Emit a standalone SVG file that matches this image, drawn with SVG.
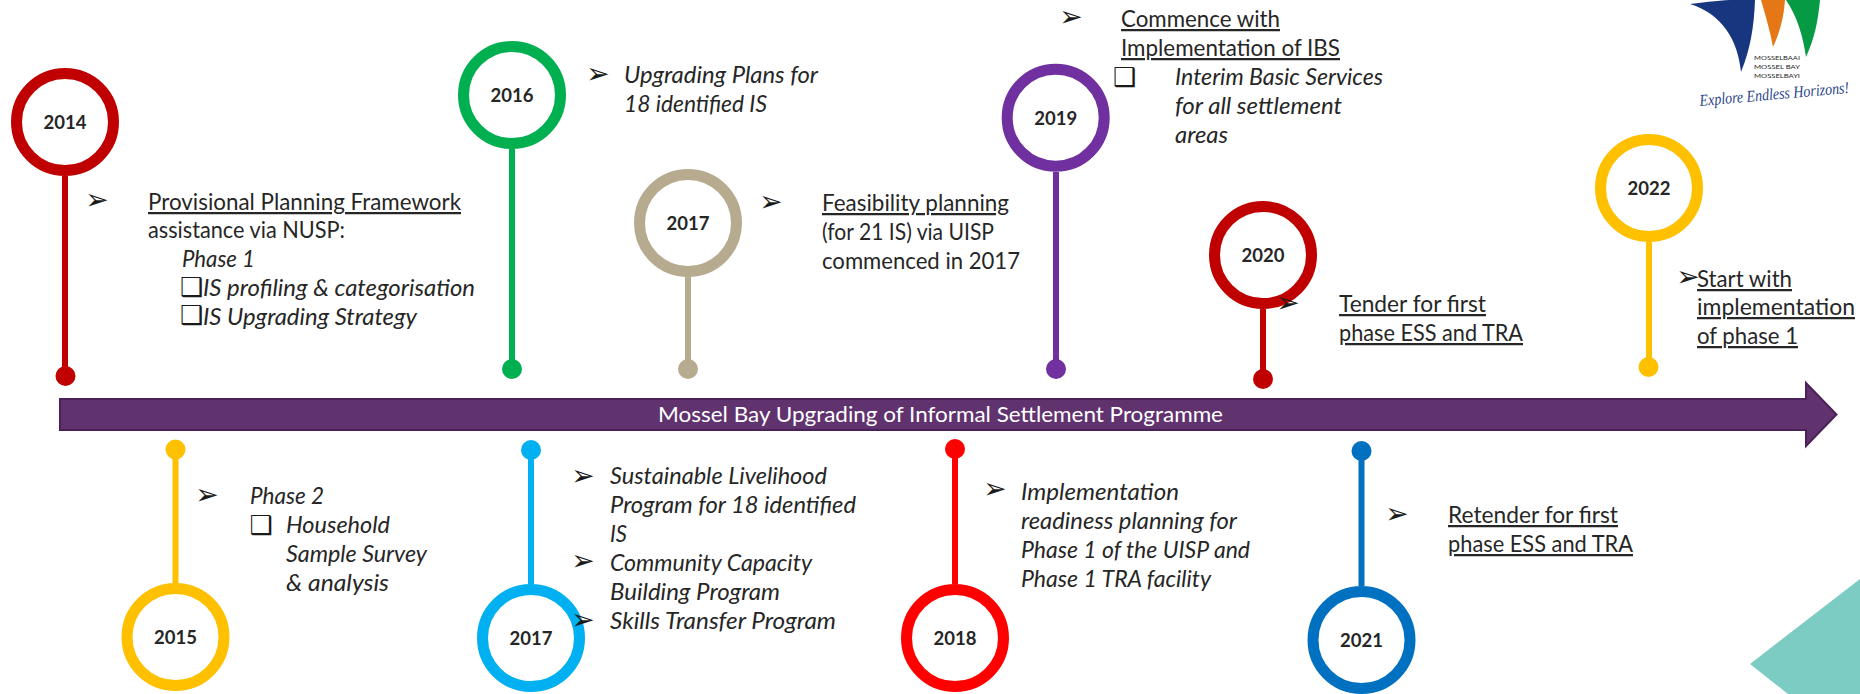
<svg xmlns="http://www.w3.org/2000/svg" width="1860" height="694" viewBox="0 0 1860 694">
<style>
text{font-family:Lato,"Liberation Sans",sans-serif;fill:#262626}
.t{font-size:22.5px}
.i{font-size:22.5px;font-style:italic}
.u{text-decoration:underline}
.y{font-size:18.5px;font-weight:700;text-anchor:middle}
.b{font-family:"DejaVu Sans",sans-serif;font-size:28px;text-anchor:middle;fill:#1a1a1a}
.c{font-family:"DejaVu Sans",sans-serif;font-size:26px;text-anchor:middle;fill:#1a1a1a}
.r{fill:#fff;stroke-width:11}
.s{stroke-width:6;fill:none}
</style>
<rect width="1860" height="694" fill="#fff"/>
<polygon id="corner-shape" points="1750,664 1860,579 1860,694 1788,694" fill="#7CCCC4"/>
<g id="logo">
<path d="M1690,4 C1708,2 1722,0 1735,0 L1755,0 C1754,28 1750,50 1741,72 C1738,40 1722,14 1690,4Z" fill="#17367F"/>
<path d="M1761,0 L1785,0 C1784,18 1779,34 1773,47 C1770,30 1765,14 1761,0Z" fill="#E57717"/>
<path d="M1786,0 L1820,0 C1818,22 1814,40 1806,57 C1803,36 1797,16 1786,0Z" fill="#079A44"/>
<text x="1754" y="60" font-size="6.5" textLength="46" lengthAdjust="spacingAndGlyphs">MOSSELBAAI</text>
<text x="1754" y="69" font-size="6.5" textLength="46" lengthAdjust="spacingAndGlyphs">MOSSEL BAY</text>
<text x="1754" y="78" font-size="6.5" textLength="46" lengthAdjust="spacingAndGlyphs">MOSSELBAYI</text>
<text transform="translate(1700 106) rotate(-5)" font-size="16.500" font-style="italic" textLength="150" lengthAdjust="spacingAndGlyphs" style="font-family:'Liberation Serif',serif;fill:#2A4488">Explore Endless Horizons!</text>
</g>
<g id="connectors">
<line class="s" x1="65" y1="176" x2="65" y2="376" stroke="#C00000"/><circle cx="65.500" cy="376" r="10" fill="#C00000"/>
<line class="s" x1="512" y1="149" x2="512" y2="369" stroke="#00B050"/><circle cx="512" cy="369" r="10" fill="#00B050"/>
<line class="s" x1="688" y1="277" x2="688" y2="369" stroke="#B7AB8F"/><circle cx="688" cy="369" r="10" fill="#B7AB8F"/>
<line class="s" x1="1056" y1="172" x2="1056" y2="369" stroke="#7030A0"/><circle cx="1056" cy="369" r="10" fill="#7030A0"/>
<line class="s" x1="1263" y1="309" x2="1263" y2="378" stroke="#C00000"/><circle cx="1263" cy="379" r="10" fill="#C00000"/>
<line class="s" x1="1649" y1="242" x2="1649" y2="368" stroke="#FFC000"/><circle cx="1648.500" cy="367" r="10" fill="#FFC000"/>
<line class="s" x1="175.500" y1="450" x2="175.500" y2="583" stroke="#FFC000"/><circle cx="175.500" cy="449.500" r="10" fill="#FFC000"/>
<line class="s" x1="531" y1="450" x2="531" y2="584" stroke="#00B0F0"/><circle cx="531" cy="450" r="10" fill="#00B0F0"/>
<line class="s" x1="955" y1="449" x2="955" y2="584" stroke="#FF0000"/><circle cx="955" cy="449" r="10" fill="#FF0000"/>
<line class="s" x1="1361.500" y1="451" x2="1361.500" y2="586" stroke="#0070C0"/><circle cx="1361.500" cy="451" r="10" fill="#0070C0"/>
</g>
<g id="timeline">
<polygon points="60,399 1806,399 1806,383 1836.500,414.500 1806,446 1806,430 60,430" fill="#60336F" stroke="#4A2257" stroke-width="2"/>
<text x="658" y="422" font-size="20.500" textLength="565" lengthAdjust="spacingAndGlyphs" style="fill:#fff">Mossel Bay Upgrading of Informal Settlement Programme</text>
</g>
<g id="node-2014">
<circle class="r" cx="65" cy="122" r="48.500" stroke="#C00000"/><text class="y" x="65" y="129">2014</text>
<text class="b" x="97" y="209">➢</text>
<text class="t u" x="148" y="210" textLength="313" lengthAdjust="spacingAndGlyphs">Provisional Planning Framework</text>
<text class="t" x="148" y="238" textLength="197" lengthAdjust="spacingAndGlyphs">assistance via NUSP:</text>
<text class="i" x="182" y="267" textLength="73" lengthAdjust="spacingAndGlyphs">Phase 1</text>
<text class="c" x="191.500" y="296">❑</text>
<text class="i" x="203" y="296" textLength="272" lengthAdjust="spacingAndGlyphs">IS profiling &amp; categorisation</text>
<text class="c" x="191.500" y="324">❑</text>
<text class="i" x="203" y="325" textLength="214" lengthAdjust="spacingAndGlyphs">IS Upgrading Strategy</text>
</g>
<g id="node-2016">
<circle class="r" cx="512" cy="95" r="48.500" stroke="#00B050"/><text class="y" x="512" y="102">2016</text>
<text class="b" x="598" y="83">➢</text>
<text class="i" x="624" y="83" textLength="194" lengthAdjust="spacingAndGlyphs">Upgrading Plans for</text>
<text class="i" x="624" y="112" textLength="143" lengthAdjust="spacingAndGlyphs">18 identified IS</text>
</g>
<g id="node-2017-a">
<circle class="r" cx="688" cy="223" r="48.500" stroke="#B7AB8F"/><text class="y" x="688" y="230">2017</text>
<text class="b" x="771" y="211">➢</text>
<text class="t u" x="822" y="211" textLength="187" lengthAdjust="spacingAndGlyphs">Feasibility planning</text>
<text class="t" x="822" y="240" textLength="172" lengthAdjust="spacingAndGlyphs">(for 21 IS) via UISP</text>
<text class="t" x="822" y="269" textLength="198" lengthAdjust="spacingAndGlyphs">commenced in 2017</text>
</g>
<g id="node-2019">
<circle class="r" cx="1055.700" cy="117.700" r="48.500" stroke="#7030A0"/><text class="y" x="1055.700" y="125">2019</text>
<text class="b" x="1071" y="26">➢</text>
<text class="t u" x="1121" y="27" textLength="159" lengthAdjust="spacingAndGlyphs">Commence with</text>
<text class="t u" x="1121" y="56" textLength="219" lengthAdjust="spacingAndGlyphs">Implementation of IBS</text>
<text class="c" x="1124.500" y="86">❑</text>
<text class="i" x="1175" y="85" textLength="208" lengthAdjust="spacingAndGlyphs">Interim Basic Services</text>
<text class="i" x="1175" y="114" textLength="167" lengthAdjust="spacingAndGlyphs">for all settlement</text>
<text class="i" x="1175" y="143" textLength="53" lengthAdjust="spacingAndGlyphs">areas</text>
</g>
<g id="node-2020">
<circle class="r" cx="1263" cy="255" r="48.500" stroke="#C00000"/><text class="y" x="1263" y="262">2020</text>
<text class="b" x="1288" y="312">➢</text>
<text class="t u" x="1339" y="312" textLength="147" lengthAdjust="spacingAndGlyphs">Tender for first</text>
<text class="t u" x="1339" y="341" textLength="184" lengthAdjust="spacingAndGlyphs">phase ESS and TRA</text>
</g>
<g id="node-2022">
<circle class="r" cx="1649" cy="188" r="48.500" stroke="#FFC000"/><text class="y" x="1649" y="195">2022</text>
<text class="b" x="1688" y="286">➢</text>
<text class="t u" x="1697" y="287" textLength="95" lengthAdjust="spacingAndGlyphs">Start with</text>
<text class="t u" x="1697" y="315" textLength="158" lengthAdjust="spacingAndGlyphs">implementation</text>
<text class="t u" x="1697" y="344" textLength="101" lengthAdjust="spacingAndGlyphs">of phase 1</text>
</g>
<g id="node-2015">
<circle class="r" cx="175.500" cy="637" r="48.500" stroke="#FFC000"/><text class="y" x="175.500" y="644">2015</text>
<text class="b" x="207" y="504">➢</text>
<text class="i" x="250" y="504" textLength="74" lengthAdjust="spacingAndGlyphs">Phase 2</text>
<text class="c" x="261" y="534">❑</text>
<text class="i" x="286" y="533" textLength="104" lengthAdjust="spacingAndGlyphs">Household</text>
<text class="i" x="286" y="562" textLength="141" lengthAdjust="spacingAndGlyphs">Sample Survey</text>
<text class="i" x="286" y="591" textLength="103" lengthAdjust="spacingAndGlyphs">&amp; analysis</text>
</g>
<g id="node-2017-b">
<circle class="r" cx="531" cy="638" r="48.500" stroke="#00B0F0"/><text class="y" x="531" y="645">2017</text>
<text class="b" x="583" y="485">➢</text>
<text class="i" x="610" y="484" textLength="217" lengthAdjust="spacingAndGlyphs">Sustainable Livelihood</text>
<text class="i" x="610" y="513" textLength="246" lengthAdjust="spacingAndGlyphs">Program for 18 identified</text>
<text class="i" x="610" y="542" textLength="17" lengthAdjust="spacingAndGlyphs">IS</text>
<text class="b" x="583" y="570">➢</text>
<text class="i" x="610" y="571" textLength="202" lengthAdjust="spacingAndGlyphs">Community Capacity</text>
<text class="i" x="610" y="600" textLength="170" lengthAdjust="spacingAndGlyphs">Building Program</text>
<text class="b" x="583" y="629">➢</text>
<text class="i" x="610" y="629" textLength="226" lengthAdjust="spacingAndGlyphs">Skills Transfer Program</text>
</g>
<g id="node-2018">
<circle class="r" cx="955" cy="638" r="48.500" stroke="#FF0000"/><text class="y" x="955" y="645">2018</text>
<text class="b" x="995" y="498">➢</text>
<text class="i" x="1021" y="500" textLength="158" lengthAdjust="spacingAndGlyphs">Implementation</text>
<text class="i" x="1021" y="529" textLength="216" lengthAdjust="spacingAndGlyphs">readiness planning for</text>
<text class="i" x="1021" y="558" textLength="229" lengthAdjust="spacingAndGlyphs">Phase 1 of the UISP and</text>
<text class="i" x="1021" y="587" textLength="190" lengthAdjust="spacingAndGlyphs">Phase 1 TRA facility</text>
</g>
<g id="node-2021">
<circle class="r" cx="1361.500" cy="640" r="48.500" stroke="#0070C0"/><text class="y" x="1361.500" y="647">2021</text>
<text class="b" x="1397" y="523">➢</text>
<text class="t u" x="1448" y="523" textLength="170" lengthAdjust="spacingAndGlyphs">Retender for first</text>
<text class="t u" x="1448" y="552" textLength="185" lengthAdjust="spacingAndGlyphs">phase ESS and TRA</text>
</g>
</svg>
